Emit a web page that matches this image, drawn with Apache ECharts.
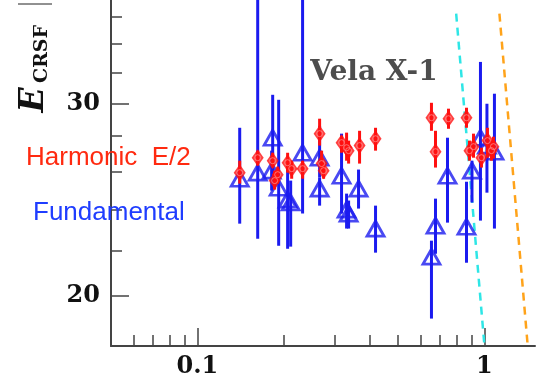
<!DOCTYPE html>
<html>
<head>
<meta charset="utf-8">
<script src="https://cdn.jsdelivr.net/npm/echarts@6/dist/echarts.min.js"></script>
<style>
html,body{margin:0;padding:0;background:#fff;}
#chart{width:543px;height:382px;}
</style>
</head>
<body>
<div id="chart"></div>
<script>
// ---- data (x: log axis, y: E_CRSF in keV) ----
const blueX  = [0.1404,0.1622,0.1829,0.1814,0.1919,0.2062,0.2113,0.2325,0.2665,0.2665,0.3178,0.3309,0.3363,0.3642,0.4174,0.6537,0.6753,0.7434,0.8657,0.9048,0.9685,1.0202,1.0834];
const blueY  = [25.60,25.93,27.91,26.04,25.12,24.50,24.35,27.04,26.76,25.07,25.76,23.99,23.79,25.07,23.05,21.73,23.19,25.76,23.14,26.04,27.91,27.45,27.10];
const blueLo = [23.29,22.56,25.23,24.97,22.23,22.09,22.19,23.79,25.66,24.19,23.79,23.05,23.05,24.04,21.91,19.07,21.86,23.34,21.45,24.35,23.44,24.86,23.05];
const blueHi = [28.50,45.00,30.55,27.16,30.23,26.32,25.50,45.00,28.62,25.66,28.15,24.81,24.45,26.10,24.19,22.47,24.55,27.91,25.44,26.59,32.74,29.98,30.62];

const redX  = [0.1404,0.1622,0.1829,0.1858,0.1904,0.2062,0.2130,0.2325,0.2665,0.2708,0.2752,0.3178,0.3309,0.3363,0.3672,0.4174,0.6537,0.6753,0.7494,0.8657,0.8867,0.9157,0.9763,1.0243,1.0577,1.0748];
const redY  = [25.93,26.76,26.59,25.50,25.82,26.48,26.15,26.15,28.15,26.43,26.04,27.62,27.33,27.16,27.45,27.85,29.11,27.10,29.05,29.11,27.16,27.39,26.76,27.74,27.16,27.39];
const redLo = [25.34,26.32,26.21,25.02,25.34,25.93,25.60,25.60,27.45,25.93,25.60,27.04,26.59,26.43,26.43,27.16,28.32,26.21,28.44,28.50,26.59,26.76,26.21,26.76,26.59,26.71];
const redHi = [26.59,27.16,27.04,26.04,26.26,27.04,26.59,26.59,29.05,27.16,26.48,28.03,28.21,27.74,28.32,28.50,30.04,28.32,29.67,29.73,27.74,28.15,27.33,28.50,27.74,27.97];

const cyanX = [0.797, 1.0];
const cyanY = [36.24, 18];
const orangeX = [1.1275, 1.415];
const orangeY = [36.24, 18];

const xMajorTicks = [0.1, 1];
const xMinorTicks = [0.06,0.07,0.08,0.09,0.2,0.3,0.4,0.5,0.6,0.7,0.8,0.9];
const yMajorTicks = [20, 30];
const yMinorTicks = [22,24,26,28,32,34,36];

const X_MIN = 0.05, X_MAX = 1.5, Y_MIN = 18, Y_MAX = 37.3;

const BLUE = '#1b1bef';
const RED = '#ff1010';
const AXIS = '#444';

function zip(a,b){ return a.map((v,i)=>[v,b[i]]); }
function errData(x, lo, hi){ return x.map((v,i)=>[v, lo[i], hi[i]]); }
function errSeries(data, color, width){
  return {
    type:'custom', xAxisIndex:0, yAxisIndex:0, data:data, clip:true,
    encode:{x:0, y:[1,2]},
    renderItem:function(params, api){
      const x = api.value(0), lo = api.value(1), hi = api.value(2);
      const p1 = api.coord([x, lo]), p2 = api.coord([x, hi]);
      return {type:'line', shape:{x1:p1[0], y1:p1[1], x2:p2[0], y2:p2[1]},
              style:{stroke:color, lineWidth:width}};
    }
  };
}

const labelFont = {fontFamily:'DejaVu Serif', fontWeight:'bold', fontSize:24, color:'#111'};

const chart = echarts.init(document.getElementById('chart'), null, {renderer:'canvas'});
chart.setOption({
  animation:false,
  backgroundColor:'#fff',
  grid:{left:111, right:8, top:0, bottom:36, containLabel:false},
  xAxis:[
    {type:'log', logBase:10, min:X_MIN, max:X_MAX, position:'bottom',
     axisLine:{show:true, onZero:false, lineStyle:{color:AXIS, width:2}},
     axisTick:{show:true, inside:true, length:18, lineStyle:{color:AXIS, width:1.5}, customValues:xMajorTicks},
     axisLabel:{show:true, margin:9, customValues:xMajorTicks, formatter:v=>String(+v.toPrecision(3)), ...labelFont},
     splitLine:{show:false}, minorTick:{show:false}},
    {type:'log', logBase:10, min:X_MIN, max:X_MAX, position:'bottom', offset:0,
     axisLine:{show:false, onZero:false},
     axisTick:{show:true, inside:true, length:11, lineStyle:{color:AXIS, width:1.5}, customValues:xMinorTicks},
     axisLabel:{show:false}, splitLine:{show:false}}
  ],
  yAxis:[
    {type:'log', logBase:10, min:Y_MIN, max:Y_MAX, position:'left',
     axisLine:{show:true, onZero:false, lineStyle:{color:AXIS, width:2}},
     axisTick:{show:true, inside:true, length:18, lineStyle:{color:AXIS, width:1.5}, customValues:yMajorTicks},
     axisLabel:{show:true, margin:11, customValues:yMajorTicks, formatter:v=>String(Math.round(v)), ...labelFont},
     splitLine:{show:false}},
    {type:'log', logBase:10, min:Y_MIN, max:Y_MAX, position:'left', offset:0,
     axisLine:{show:false, onZero:false},
     axisTick:{show:true, inside:true, length:11, lineStyle:{color:AXIS, width:1.5}, customValues:yMinorTicks},
     axisLabel:{show:false}, splitLine:{show:false}}
  ],
  series:[
    {type:'line', data:zip(cyanX, cyanY), symbol:'none', silent:true,
     lineStyle:{color:'#2ee6e6', width:2.5, type:[8,6]}, z:1},
    {type:'line', data:zip(orangeX, orangeY), symbol:'none', silent:true,
     lineStyle:{color:'#ffa31a', width:2.5, type:[8,6]}, z:1},
    Object.assign(errSeries(errData(blueX, blueLo, blueHi), BLUE, 3), {z:2}),
    {type:'scatter', data:zip(blueX, blueY), symbol:'triangle', symbolSize:[17,15], z:3,
     itemStyle:{color:'rgba(0,0,0,0)', borderColor:BLUE, borderWidth:2.8}},
    Object.assign(errSeries(errData(redX, redLo, redHi), RED, 3), {z:4}),
    {type:'scatter', data:zip(redX, redY), symbol:'diamond', symbolSize:[12,17], z:5,
     itemStyle:{color:RED}},
    {type:'scatter', data:zip(redX, redY), symbol:'circle', symbolSize:6, z:6, silent:true,
     itemStyle:{color:'rgba(0,0,0,0)', borderColor:'rgba(255,150,150,0.9)', borderWidth:1}}
  ],
  graphic:[
    {type:'line', shape:{x1:18, y1:4, x2:52, y2:4}, style:{stroke:'#222', lineWidth:1}},
    {type:'text', x:374, y:73, z:10,
     style:{text:'Vela X-1', font:'bold 28px "DejaVu Serif"', fill:'#4d4d4d', align:'center', verticalAlign:'middle'}},
    {type:'text', x:26, y:158, z:10,
     style:{text:'Harmonic  E/2', font:'26px "Liberation Sans"', fill:'#ff2a10', align:'left', verticalAlign:'middle'}},
    {type:'text', x:33, y:213, z:10,
     style:{text:'Fundamental', font:'26px "Liberation Sans"', fill:'#1f3dff', align:'left', verticalAlign:'middle'}},
    {type:'text', x:34, y:100, rotation:Math.PI/2, z:10,
     style:{text:'E', font:'italic bold 33px "DejaVu Serif"', fill:'#111', align:'center', verticalAlign:'middle'}},
    {type:'text', x:42, y:54, rotation:Math.PI/2, z:10,
     style:{text:'CRSF', font:'bold 19px "DejaVu Serif"', fill:'#111', align:'center', verticalAlign:'middle'}}
  ]
});
</script>
</body>
</html>
